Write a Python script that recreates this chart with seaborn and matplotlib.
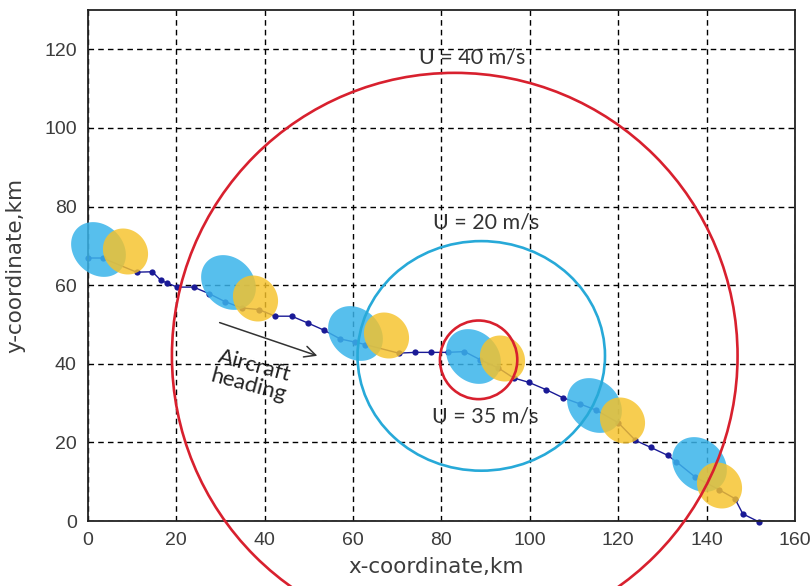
import numpy as np
import pandas as pd
import matplotlib
matplotlib.use("Agg")
import matplotlib.pyplot as plt
from matplotlib.path import Path
from matplotlib.patches import Ellipse
import seaborn as sns

# Aircraft track (km)
track_x = [0.1, 3.3, 11.0, 14.6, 16.5, 17.8, 20.2, 23.9, 27.5, 31.0, 34.8, 38.6,
           42.4, 46.1, 49.7, 53.5, 57.1, 60.5, 62.7, 70.3, 74.1, 77.6, 81.4, 85.2,
           88.8, 92.9, 96.3, 99.7, 103.7, 107.4, 111.3, 115.0, 120.0, 123.9, 127.4,
           131.2, 133.1, 137.4, 142.9, 146.4, 148.2, 151.8]
track_y = [66.9, 66.9, 63.3, 63.4, 61.2, 60.6, 59.5, 59.5, 57.8, 55.8, 54.2, 53.8,
           52.1, 52.1, 50.4, 48.5, 46.3, 45.5, 44.9, 42.7, 42.9, 42.9, 42.9, 43.1,
           41.0, 38.9, 36.4, 35.3, 33.4, 31.4, 29.8, 28.2, 25.0, 20.5, 18.7,
           16.7, 15.1, 11.2, 7.9, 5.7, 1.8, -0.2]

# Footprint blobs along the track
wake_x = [2.3, 31.7, 60.5, 87.1, 114.4, 138.2]
wake_y = [69.3, 60.9, 47.9, 41.9, 29.6, 14.5]
gust_x = [8.3, 37.9, 67.4, 93.8, 120.8, 142.7]
gust_y = [68.7, 56.7, 47.4, 41.4, 25.7, 9.2]

# Wind-speed contours
ring_cx = [83.0, 89.0, 88.4]
ring_cy = [42.0, 42.0, 41.0]
ring_w = [128.0, 56.0, 17.5]
ring_h = [144.0, 58.4, 20.0]
ring_colors = ["#d8202e", "#27a9d8", "#d8202e"]
ring_labels = ["U = 40 m/s", "U = 20 m/s", "U = 35 m/s"]
label_x = [87.0, 90.0, 90.0]
label_y = [118.0, 76.0, 26.7]

x_ticks = [0, 20, 40, 60, 80, 100, 120, 140, 160]
y_ticks = [0, 20, 40, 60, 80, 100, 120]

heading_tail = (29.2, 50.7)
heading_head = (52.5, 41.8)

sns.set_style("white")
plt.rcParams["font.family"] = ["Liberation Sans", "DejaVu Sans"]

fig = plt.figure(figsize=(8.10, 5.86), dpi=100)
ax = fig.add_axes([0.1086, 0.1109, 0.8729, 0.8721])


def ellipse_marker(a, b, angle_deg, n=80):
    t = np.linspace(0, 2 * np.pi, n)
    th = np.deg2rad(angle_deg)
    ex, ey = a * np.cos(t), b * np.sin(t)
    vx = ex * np.cos(th) - ey * np.sin(th)
    vy = ex * np.sin(th) + ey * np.cos(th)
    verts = np.column_stack([vx, vy])
    ext = np.max(np.abs(verts))
    size_pt = 2 * ext * 72.0 / fig.dpi
    return Path(verts, closed=True), size_pt ** 2


track = pd.DataFrame({"x": track_x, "y": track_y})
sns.lineplot(data=track, x="x", y="y", sort=False, color="#1a1a96", lw=1.0,
             marker="o", markersize=4.5, markeredgewidth=0, ax=ax, zorder=2,
             clip_on=False)

wake_path, wake_s = ellipse_marker(30, 24.5, -45)
gust_path, gust_s = ellipse_marker(24, 21.5, -50)
sns.scatterplot(x=wake_x, y=wake_y, marker=wake_path, s=wake_s, color="#3ab4ea",
                alpha=0.85, linewidth=0, ax=ax, zorder=3, clip_on=False)
sns.scatterplot(x=gust_x, y=gust_y, marker=gust_path, s=gust_s, color="#f6c22a",
                alpha=0.82, linewidth=0, ax=ax, zorder=3.1, clip_on=False)

for cx, cy, w, h, c in zip(ring_cx, ring_cy, ring_w, ring_h, ring_colors):
    ax.add_patch(Ellipse((cx, cy), w, h, fill=False, ec=c, lw=1.9,
                         clip_on=False, zorder=4))

for lx, ly, txt in zip(label_x, label_y, ring_labels):
    ax.text(lx, ly, txt, ha="center", va="center", fontsize=15.5,
            family=["Lato", "DejaVu Sans"], color="#333333", zorder=5)

ax.annotate("", xy=heading_head, xytext=heading_tail,
            arrowprops=dict(arrowstyle="->", color="#333333", lw=1.1,
                            mutation_scale=20), zorder=5)
ax.text(37.0, 37.0, "Aircraft\nheading", rotation=-15, rotation_mode="anchor",
        ha="center", va="center", fontsize=16, linespacing=1.0,
        family=["Lato", "DejaVu Sans"], color="#222222", zorder=5)

ax.set_xlim(0, 160)
ax.set_ylim(0, 130)
ax.set_xticks(x_ticks)
ax.set_yticks(y_ticks)
ax.grid(True, color="black", linestyle=(0, (4, 3)), lw=1.0)
ax.set_axisbelow(True)
ax.tick_params(length=0, pad=8, labelsize=14, labelcolor="#3c3c3c")
for sp in ax.spines.values():
    sp.set_visible(True)
    sp.set_color("#222222")
    sp.set_linewidth(1.3)

ax.set_xlabel("x-coordinate,km", fontsize=15.5, color="#3c3c3c",
              family=["DejaVu Sans"], va="center")
ax.set_ylabel("y-coordinate,km", fontsize=15.5, color="#3c3c3c",
              family=["DejaVu Sans"], va="center")
ax.xaxis.set_label_coords(0.492, -0.09)
ax.yaxis.set_label_coords(-0.103, 0.5)

fig.savefig("out.png", dpi=100)
